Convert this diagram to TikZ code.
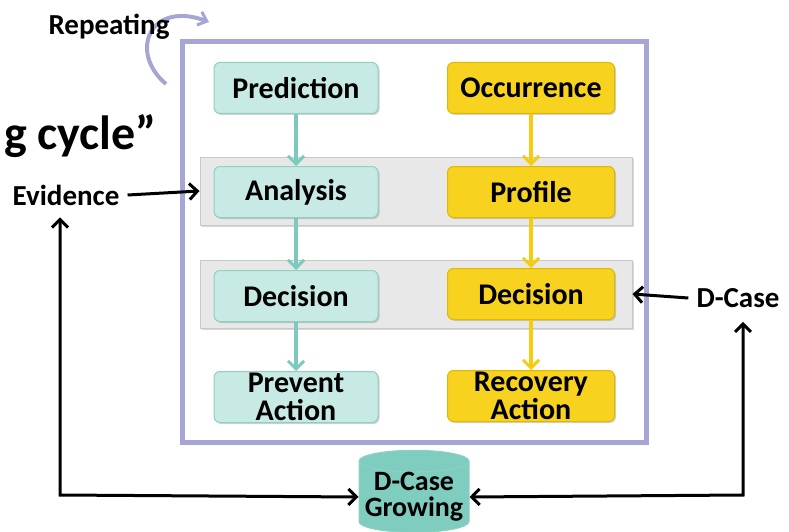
\documentclass[tikz,border=0pt]{standalone}
\usepackage{fontspec}
\setmainfont{Carlito}
\usetikzlibrary{shapes.geometric,arrows.meta,shadows}
\definecolor{tealfill}{HTML}{C8EAE4}
\definecolor{tealline}{HTML}{8FCFC4}
\definecolor{tealarrow}{HTML}{7CC9BD}
\definecolor{yelfill}{HTML}{F7D21E}
\definecolor{yelline}{HTML}{E0B800}
\definecolor{yelarrow}{HTML}{F5CC10}
\definecolor{lav}{HTML}{A6A6D6}
\definecolor{bandfill}{HTML}{E8E8E8}
\definecolor{bandline}{HTML}{C8C8C8}
\definecolor{cylfill}{HTML}{7FCDBE}
\tikzset{
  tbox/.style={draw=tealline, fill=tealfill, rounded corners=6pt, line width=1pt,
    minimum width=164pt, minimum height=51pt, font=\bfseries\fontsize{30}{28}\selectfont,
    align=center, inner sep=0pt, drop shadow={shadow xshift=1.5pt, shadow yshift=-1.5pt, opacity=0.35}},
  ybox/.style={tbox, draw=yelline, fill=yelfill, minimum width=167pt},
  band/.style={draw=bandline, fill=bandfill, line width=1pt,
    drop shadow={shadow xshift=2pt, shadow yshift=-2pt, opacity=0.3}},
  tarr/.style={draw=tealarrow, line width=3.5pt, -{Straight Barb[length=8pt,width=16pt,line width=3pt]}},
  yarr/.style={draw=yelarrow, line width=3.5pt, -{Straight Barb[length=8pt,width=16pt,line width=3pt]}},
  karr/.style={draw=black, line width=3pt, -{Straight Barb[length=8pt,width=16pt,line width=3pt]}},
  kline/.style={draw=black, line width=3pt, {Straight Barb[length=8pt,width=16pt,line width=3pt]}-{Straight Barb[length=8pt,width=16pt,line width=3pt]}},
  lbl/.style={font=\bfseries\fontsize{29}{26}\selectfont, inner sep=0pt}
}
\begin{document}
\begin{tikzpicture}[x=1pt,y=-1pt]
\useasboundingbox (0,0) rectangle (789,532);
% repeating arc
\coordinate (ra) at (166,84);
\coordinate (rb) at (209,22);
\draw[draw=lav, line width=4pt, -{Straight Barb[length=8pt,width=14pt,line width=3pt]}]
  (ra) .. controls (128,52) and (150,0) .. (rb);
% outer frame
\node[draw=lav, line width=5pt, fill=white, minimum width=464pt, minimum height=401pt,
  drop shadow={shadow xshift=2pt, shadow yshift=-2pt, opacity=0.3}, inner sep=0pt] (frame) at (414,242) {};
% bands
\node[band, minimum width=432pt, minimum height=68pt, inner sep=0pt] (band1) at (416,191) {};
\node[band, minimum width=432pt, minimum height=68pt, inner sep=0pt] (band2) at (416,294) {};
% teal boxes
\node[tbox] (pred) at (296,88) {Prediction};
\node[tbox] (anal) at (296,192) {Analysis};
\node[tbox] (dec1) at (296,296) {Decision};
\node[tbox] (prev) at (296,397) {Prevent\\Action};
% yellow boxes
\node[ybox] (occ) at (531,88) {Occurrence};
\node[ybox] (prof) at (531,192) {Profile};
\node[ybox] (dec2) at (531,294) {Decision};
\node[ybox] (rec) at (531,396) {Recovery\\Action};
% flow arrows
\draw[tarr] (pred) -- (anal);
\draw[tarr] (anal) -- (dec1);
\draw[tarr] (dec1) -- (prev);
\draw[yarr] (occ) -- (prof);
\draw[yarr] (prof) -- (dec2);
\draw[yarr] (dec2) -- (rec);
% labels
\node[lbl] (rep) at (109,27) {Repeating};
\node[font=\bfseries\fontsize{48}{48}\selectfont, inner sep=0pt, anchor=east] (cyc) at (157,136) {g cycle”};
\node[lbl] (evid) at (66,195) {Evidence};
\node[lbl] (dcase) at (738,298) {D-Case};
% side arrows
\draw[karr] (evid.east) ++(8,0) coordinate (e1) -- (band1.west);
\draw[karr] (dcase.west) ++(-8,0) coordinate (d1) -- (band2.east);
% cylinder
\node[cylinder, shape border rotate=90, aspect=0.22, draw=tealline, fill=cylfill, line width=1pt,
  minimum width=110pt, minimum height=66pt, inner sep=0pt, align=center,
  font=\bfseries\fontsize{28}{26}\selectfont] (cyl) at (414,497) {D-Case\\Growing};
\coordinate (bl) at (60,495);
\coordinate (br) at (743,495);
\draw[kline] ([yshift=-12pt]evid.south -| bl) -- (bl) -- (cyl.west);
\draw[kline] (cyl.east) -- (br) -- ([yshift=-14pt]dcase.south -| br);
\end{tikzpicture}
\end{document}
